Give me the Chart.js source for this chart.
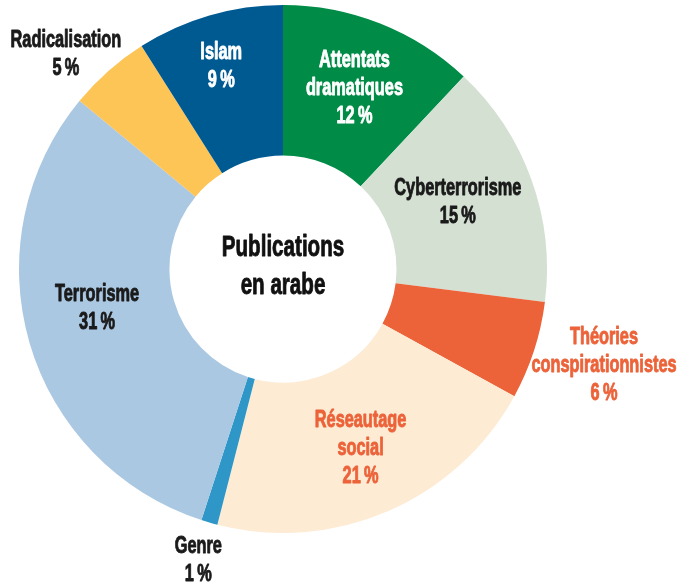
<!DOCTYPE html>
<html>
<head>
<meta charset="utf-8">
<script src="https://cdn.jsdelivr.net/npm/chart.js@4/dist/chart.umd.min.js"></script>
<style>
  html, body { margin: 0; padding: 0; background: #fff; }
  canvas { display: block; }
</style>
</head>
<body>
<canvas id="myChart" width="683" height="586"></canvas>
<script>
/** données du graphique */
var categories = ['Attentats\ndramatiques', 'Cyberterrorisme', 'Théories\nconspirationnistes', 'Réseautage\nsocial', 'Genre', 'Terrorisme', 'Radicalisation', 'Islam']
var values = [12, 15, 6, 21, 1, 31, 5, 9]
var centerTitle = ['Publications', 'en arabe']

/** styles */
var colors = ['#008c47', '#d3e0d2', '#ec633a', '#fdebd4', '#2e97c7', '#abc8e2', '#fdc456', '#005a92']
var textColors = ['#ffffff', '#1a1a1a', '#ec633a', '#ec633a', '#1a1a1a', '#1a1a1a', '#1a1a1a', '#ffffff']
/** position des étiquettes : rayon (fraction du rayon extérieur) et petit décalage d'angle en degrés */
var labelRadius = [0.735, 0.708, 1.27, 0.74, 1.15, 0.72, 1.155, 0.80]
var labelNudge = [0, -0.9, -1.2, 0, 0, 4.2, -4, -0.8]

var fontFamily = '"Liberation Sans", Arial, sans-serif'

function drawLines(ctx, lines, x, y, size, lineGap, color) {
    ctx.save()
    ctx.fillStyle = color
    ctx.strokeStyle = color
    ctx.lineWidth = 0.9
    ctx.lineJoin = 'round'
    ctx.font = 'bold ' + size + 'px ' + fontFamily
    ctx.textAlign = 'center'
    ctx.textBaseline = 'middle'
    var top = y - (lines.length - 1) * lineGap / 2
    lines.forEach(function (line, i) {
        ctx.save()
        ctx.translate(x, top + i * lineGap)
        ctx.scale(0.71, 1)   // police étroite
        ctx.fillText(line, 0, 0)
        ctx.strokeText(line, 0, 0)
        ctx.restore()
    })
    ctx.restore()
}

var labelPlugin = {
    id: 'labelPlugin',
    afterDraw: function (chart) {
        var ctx = chart.ctx
        var meta = chart.getDatasetMeta(0)
        meta.data.forEach(function (arc, i) {
            var a = (arc.startAngle + arc.endAngle) / 2 + labelNudge[i] * Math.PI / 180
            var r = arc.outerRadius * labelRadius[i]
            var x = arc.x + r * Math.cos(a)
            var y = arc.y + r * Math.sin(a)
            var lines = categories[i].split('\n')
            lines.push(values[i] + '\u2009%')
            drawLines(ctx, lines, x, y, 23, 28, textColors[i])
        })
        var first = meta.data[0]
        drawLines(ctx, centerTitle, first.x, first.y - 2, 29, 38, '#111111')
    }
}

var ctx = document.getElementById('myChart').getContext('2d')
var myChart = new Chart(ctx, {
    type: 'doughnut',
    data: {
        labels: categories,
        datasets: [{
            data: values,
            backgroundColor: colors,
            borderWidth: 0
        }]
    },
    options: {
        responsive: false,
        animation: false,
        cutout: '43%',
        layout: { padding: { left: 19, top: 5, right: 136, bottom: 53 } },
        plugins: {
            legend: { display: false },
            tooltip: { enabled: false }
        }
    },
    plugins: [labelPlugin]
})
</script>
</body>
</html>
